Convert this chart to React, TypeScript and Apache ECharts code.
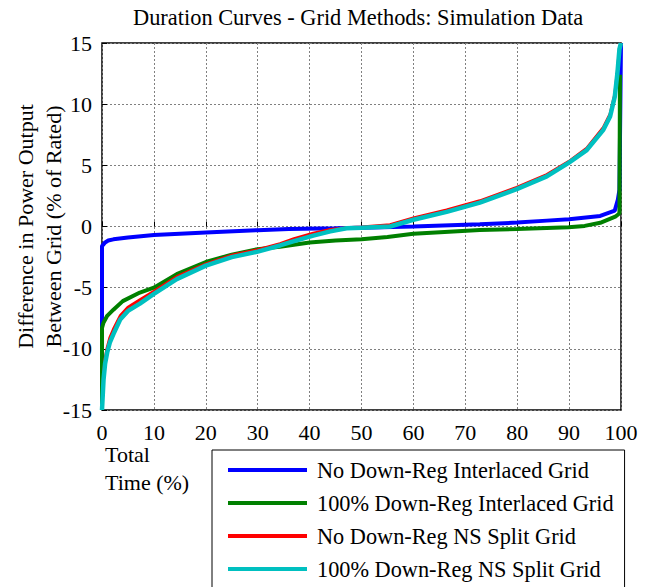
import React, { useEffect, useRef } from "react";
import * as echarts from "echarts";

const seriesNames = [
  "No Down-Reg Interlaced Grid",
  "100% Down-Reg Interlaced Grid",
  "No Down-Reg NS Split Grid",
  "100% Down-Reg NS Split Grid",
];
const seriesColors = ["#0000ff", "#008000", "#ff0000", "#00c0c0"];
const seriesWidths = [4, 4, 3, 4.5];

const xTicks = [0, 10, 20, 30, 40, 50, 60, 70, 80, 90, 100];
const yTicks = [-15, -10, -5, 0, 5, 10, 15];
const xAxisTitleLines = ["Total", "Time (%)"];

// Blue: No Down-Reg Interlaced Grid
const timeBlue = [0, 0, 0.2, 0.6, 1.2, 2.2, 5, 10, 20, 30, 36, 45, 50, 60, 72.8, 80, 85.7, 90, 96, 98.8, 99.4, 99.7, 100];
const valBlue = [-15, -1.6, -1.5, -1.3, -1.15, -1.05, -0.9, -0.7, -0.5, -0.3, -0.2, -0.15, -0.1, 0.0, 0.18, 0.32, 0.48, 0.6, 0.86, 1.3, 2.2, 3, 15];

// Green: 100% Down-Reg Interlaced Grid
const timeGreen = [0, 0, 0.25, 1, 2.2, 4, 7.3, 10, 14.4, 20, 25, 30, 34.3, 40, 45, 50, 55, 60, 66, 72.8, 80, 89.9, 93, 96, 98.9, 99.5, 99.7, 99.8];
const valGreen = [-15, -8.3, -7.9, -7.3, -6.8, -6.1, -5.4, -5.0, -3.9, -2.9, -2.3, -1.85, -1.65, -1.3, -1.15, -1.05, -0.85, -0.6, -0.45, -0.29, -0.2, -0.07, 0.05, 0.3, 0.8, 1.0, 1.1, 12.4];

// Red: No Down-Reg NS Split Grid
const timeRed = [0, 0.3, 0.6, 1, 1.5, 2.2, 3.5, 5, 7.3, 10, 14.4, 20, 25, 30, 34.3, 37, 40.7, 44, 47.1, 50, 55.5, 60, 66.4, 72.8, 79.9, 85.7, 89.9, 93.4, 96.6, 97.9, 98.8, 99.3, 99.7, 100];
const valRed = [-15, -12.0, -10.8, -9.9, -9.1, -8.4, -7.3, -6.6, -6.0, -5.3, -4.1, -3.05, -2.35, -1.9, -1.4, -1.0, -0.55, -0.25, -0.1, -0.05, 0.15, 0.7, 1.35, 2.1, 3.2, 4.25, 5.3, 6.4, 8.1, 9.2, 10.8, 12.7, 14.6, 15];

// Cyan: 100% Down-Reg NS Split Grid
const timeCyan = [0, 0.3, 0.6, 1, 1.5, 2.2, 3.5, 5, 7.3, 10, 14.4, 20, 25, 30, 34.3, 37, 40.7, 44, 47.1, 50, 55.5, 60, 66.4, 72.8, 79.9, 85.7, 89.9, 93.4, 96.6, 97.9, 98.8, 99.3, 99.7, 100];
const valCyan = [-15, -12.5, -11.2, -10.3, -9.5, -8.8, -7.6, -6.9, -6.3, -5.5, -4.3, -3.2, -2.5, -2.05, -1.55, -1.2, -0.75, -0.4, -0.15, -0.1, 0.0, 0.55, 1.2, 1.95, 3.05, 4.1, 5.2, 6.25, 7.9, 9.0, 10.6, 12.5, 14.5, 15];

const allTimes = [timeBlue, timeGreen, timeRed, timeCyan];
const allVals = [valBlue, valGreen, valRed, valCyan];

const FONT = "Liberation Serif";

export default function App() {
  const ref = useRef<HTMLDivElement>(null);
  useEffect(() => {
    if (!ref.current) return;
    const chart = echarts.init(ref.current, null, { renderer: "svg" });
    const series = seriesNames.map((name, i) => ({
      name,
      type: "line",
      data: allTimes[i].map((t, j) => [t, allVals[i][j]]),
      showSymbol: false,
      symbol: "none",
      color: seriesColors[i],
      lineStyle: { color: seriesColors[i], width: seriesWidths[i] },
      z: 2 + i,
    }));
    chart.setOption({
      animation: false,
      backgroundColor: "#ffffff",
      textStyle: { fontFamily: FONT },
      title: {
        text: "Duration Curves - Grid Methods: Simulation Data",
        left: 133,
        top: 6,
        padding: 0,
        textStyle: { fontFamily: FONT, fontSize: 22.4, fontWeight: "normal", color: "#000" },
      },
      grid: {
        left: 102,
        right: 30,
        top: 43,
        bottom: 220,
        containLabel: false,
        outerBoundsMode: "none",
        show: true,
        borderColor: "#000",
        borderWidth: 1.5,
        backgroundColor: "transparent",
      },
      legend: {
        orient: "vertical",
        left: 212,
        top: 450,
        padding: [9, 11, 30, 16],
        itemGap: 11,
        itemWidth: 79,
        itemHeight: 4,
        icon: "rect",
        borderColor: "#000",
        borderWidth: 1,
        data: seriesNames,
        textStyle: { fontFamily: FONT, fontSize: 22.3, color: "#000", padding: [0, 0, 0, 5] },
      },
      graphic: xAxisTitleLines.map((line, i) => ({
        type: "text",
        left: 105,
        top: 443 + i * 28,
        style: { text: line, fontFamily: FONT, fontSize: 22, fill: "#000" },
      })),
      xAxis: {
        type: "value",
        min: 0,
        max: 100,
        interval: 10,
        axisLine: { show: false },
        axisTick: { show: true, inside: true, length: 5, lineStyle: { color: "#000" } },
        axisLabel: { fontFamily: FONT, fontSize: 22, color: "#000", margin: 11 },
        splitLine: { show: true, lineStyle: { color: "#808080", width: 1, type: [2, 2] } },
      },
      yAxis: {
        type: "value",
        min: -15,
        max: 15,
        interval: 5,
        name: "Difference in Power Output\nBetween Grid (% of Rated)",
        nameLocation: "middle",
        nameRotate: 90,
        nameGap: 35,
        nameMoveOverlap: false,
        nameTextStyle: { fontFamily: FONT, fontSize: 22, lineHeight: 28, color: "#000" },
        axisLine: { show: false },
        axisTick: { show: true, inside: true, length: 5, lineStyle: { color: "#000" } },
        axisLabel: { fontFamily: FONT, fontSize: 22, color: "#000", margin: 10 },
        splitLine: { show: true, lineStyle: { color: "#808080", width: 1, type: [2, 2] } },
      },
      series,
    });
    return () => chart.dispose();
  }, []);
  return (
    <div style={{ position: "fixed", left: 0, top: 0, width: 651, height: 587, overflow: "hidden", background: "#fff" }}>
      <div ref={ref} style={{ width: 651, height: 630 }} />
    </div>
  );
}
